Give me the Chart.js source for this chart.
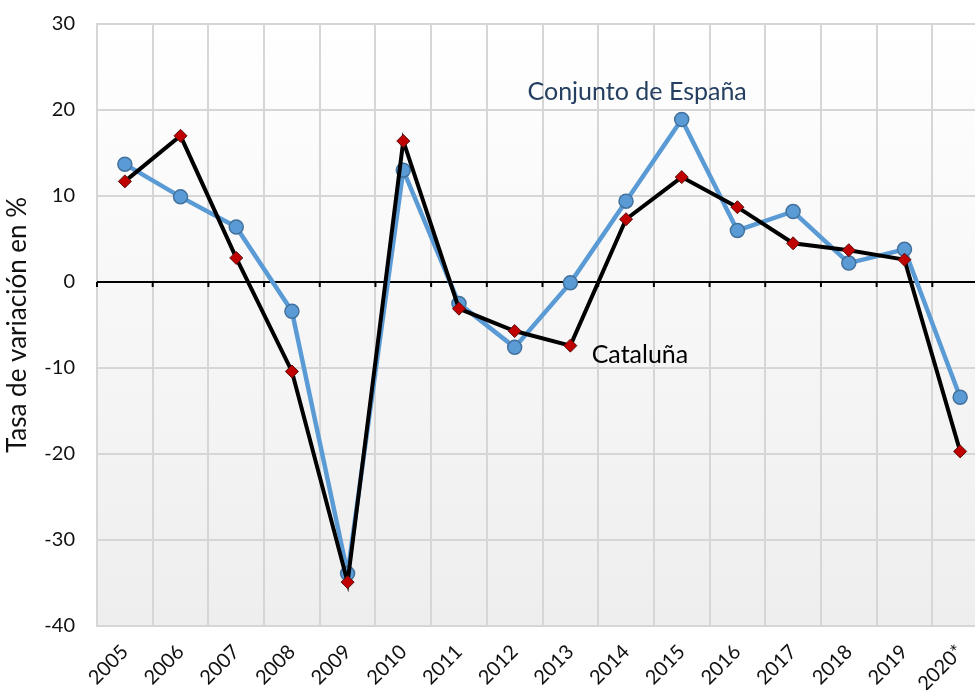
<!DOCTYPE html>
<html>
<head>
<meta charset="utf-8">
<script src="https://cdn.jsdelivr.net/npm/chart.js@4/dist/chart.umd.min.js"></script>
<style>
  html, body { margin: 0; padding: 0; background: #fff; overflow: hidden; }
  #wrap { width: 1000px; height: 690px; }
</style>
</head>
<body>
<div id="wrap"><canvas id="c" width="1000" height="690"></canvas></div>
<script>
const years = ['2005','2006','2007','2008','2009','2010','2011','2012','2013','2014','2015','2016','2017','2018','2019','2020*'];
const espana = [13.7, 9.9, 6.4, -3.4, -33.9, 13.0, -2.5, -7.6, -0.1, 9.4, 18.9, 6.0, 8.2, 2.2, 3.8, -13.4];
const cataluna = [11.7, 17.0, 2.8, -10.4, -34.9, 16.4, -3.1, -5.7, -7.4, 7.3, 12.2, 8.7, 4.5, 3.7, 2.6, -19.7];
const yTicks = [30, 20, 10, 0, -10, -20, -30, -40];
const labelEspana = 'Conjunto de España';
const labelCataluna = 'Cataluña';

const FONT = 'Lato';
Chart.defaults.font.family = FONT;

const bgPlugin = {
  id: 'bg',
  beforeDraw(chart) {
    const {ctx, chartArea: a} = chart;
    const g = ctx.createLinearGradient(0, a.top, 0, a.bottom);
    g.addColorStop(0, '#ffffff');
    g.addColorStop(1, '#eeeeee');
    ctx.save();
    ctx.fillStyle = g;
    ctx.fillRect(a.left, a.top, a.right - a.left, a.bottom - a.top);
    ctx.restore();
  }
};

const zeroPlugin = {
  id: 'zero',
  beforeDatasetsDraw(chart) {
    const {ctx, chartArea: a, scales} = chart;
    const y0 = scales.y.getPixelForValue(0);
    const half = (scales.x.getPixelForValue(1) - scales.x.getPixelForValue(0)) / 2;
    ctx.save();
    ctx.strokeStyle = '#000';
    ctx.lineWidth = 2;
    ctx.beginPath();
    ctx.moveTo(a.left, y0);
    ctx.lineTo(a.right, y0);
    for (let i = 0; i <= years.length; i++) {
      const px = scales.x.getPixelForValue(i) - half;
      ctx.moveTo(px, y0);
      ctx.lineTo(px, y0 + 5);
    }
    ctx.stroke();
    ctx.restore();
  }
};

const notes = [
  {text: labelEspana, idx: 9.2, val: 22.1, color: '#243f60'},
  {text: labelCataluna, idx: 9.25, val: -8.5, color: '#000000'}
];
const notePlugin = {
  id: 'notes',
  afterDatasetsDraw(chart) {
    const {ctx, scales} = chart;
    ctx.save();
    ctx.font = '25px ' + FONT;
    ctx.textAlign = 'center';
    ctx.textBaseline = 'middle';
    notes.forEach(n => {
      const x0 = scales.x.getPixelForValue(Math.floor(n.idx));
      const x1 = scales.x.getPixelForValue(Math.floor(n.idx) + 1);
      const x = x0 + (x1 - x0) * (n.idx - Math.floor(n.idx));
      ctx.fillStyle = n.color;
      ctx.fillText(n.text, x, scales.y.getPixelForValue(n.val));
    });
    ctx.restore();
  }
};

new Chart(document.getElementById('c'), {
  type: 'line',
  data: {
    labels: years,
    datasets: [
      {
        label: labelCataluna,
        data: cataluna,
        borderColor: '#000000',
        borderWidth: 4,
        pointStyle: 'rectRot',
        pointRadius: 6.5,
        pointBackgroundColor: '#c00000',
        pointBorderColor: '#5a1010',
        pointBorderWidth: 1,
        tension: 0
      },
      {
        label: labelEspana,
        data: espana,
        borderColor: '#5b9bd5',
        borderWidth: 4.5,
        pointStyle: 'circle',
        pointRadius: 7,
        pointBackgroundColor: '#5b9bd5',
        pointBorderColor: '#41719c',
        pointBorderWidth: 1.5,
        tension: 0
      }
    ]
  },
  options: {
    responsive: false,
    devicePixelRatio: 1,
    animation: false,
    layout: { padding: { top: 24, right: 12, left: 0, bottom: 0 } },
    plugins: { legend: { display: false }, tooltip: { enabled: false } },
    scales: {
      x: {
        offset: true,
        grid: { offset: true, color: '#d6d6d6', lineWidth: 2, drawTicks: false },
        border: { color: '#d6d6d6', width: 2 },
        ticks: { minRotation: 45, maxRotation: 45, color: '#111', font: { size: 20 }, padding: 14 },
        afterFit(s) { s.height = 64; }
      },
      y: {
        min: -40, max: 30,
        afterBuildTicks(s) { s.ticks = yTicks.map(v => ({value: v})); },
        grid: { color: '#d6d6d6', lineWidth: 2, drawTicks: true, tickLength: 19, tickColor: 'rgba(0,0,0,0)' },
        border: { color: '#d6d6d6', width: 2 },
        ticks: { color: '#111', font: { size: 20 }, padding: 3 },
        title: { display: true, text: 'Tasa de variación en %', color: '#111', font: { size: 26 }, padding: { top: 2, bottom: 0 } },
        afterFit(s) { s.width = 97; }
      }
    }
  },
  plugins: [bgPlugin, zeroPlugin, notePlugin]
});
</script>
</body>
</html>
